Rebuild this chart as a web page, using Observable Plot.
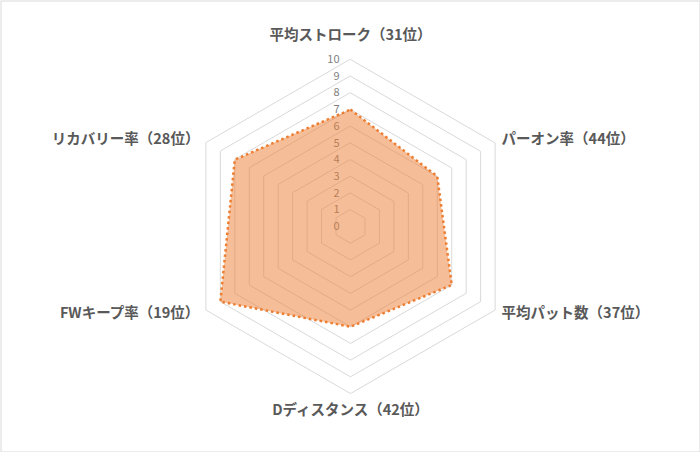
<!DOCTYPE html>
<html><head><meta charset="utf-8">
<script src="https://cdn.jsdelivr.net/npm/d3@7"></script>
<script src="https://cdn.jsdelivr.net/npm/@observablehq/plot@0.6"></script>
<style>
html,body{margin:0;padding:0;background:#fff;}
#chart{width:700px;height:452px;}
</style></head>
<body><div id="chart"></div>
<script>
const categories = ["平均ストローク（31位）","パーオン率（44位）","平均パット数（37位）","Dディスタンス（42位）","FWキープ率（19位）","リカバリー率（28位）"];
const values = [7, 6, 7, 6, 9, 8];
const tickValues = [0,1,2,3,4,5,6,7,8,9,10];
const maxValue = 10;

const n = categories.length;
const ang = i => Math.PI / 2 - (2 * Math.PI * i) / n;
const pt = (r, i) => ({x: r * Math.cos(ang(i)), y: r * Math.sin(ang(i))});

const grid = [];
for (const t of tickValues.filter(t => t > 0)) {
  for (let i = 0; i < n; i++) grid.push({level: t, ...pt(t, i)});
}
const series = values.map((v, i) => ({cat: categories[i], ...pt(v, i)}));
const tickData = tickValues.map(t => ({t, x: 0, y: t}));

const labelData = categories.map((c, i) => {
  const a = ang(i);
  const c0 = Math.cos(a);
  const isVert = Math.abs(c0) < 1e-6;
  const r = isVert ? (Math.sin(a) > 0 ? maxValue * 1.145 : maxValue * 1.1) : maxValue * 1.045;
  return {label: c, x: r * Math.cos(a), y: r * Math.sin(a),
          anchor: isVert ? "middle" : (c0 > 0 ? "start" : "end")};
});

const font = "'Noto Sans CJK JP', 'Noto Sans', sans-serif";
const chart = Plot.plot({
  width: 700, height: 452,
  marginTop: 0, marginBottom: 0, marginLeft: 0, marginRight: 0,
  x: {domain: [-20.96, 20.96], axis: null},
  y: {domain: [-13.53, 13.53], axis: null},
  style: {fontFamily: font, background: "#fff"},
  marks: [
    Plot.frame({stroke: "#d9d9d9", inset: 0.5}),
    Plot.line(grid, {x: "x", y: "y", z: "level", curve: "linear-closed", stroke: "#d9d9d9", strokeWidth: 1}),
    Plot.text(tickData, {x: "x", y: "y", text: d => String(d.t), textAnchor: "end", dx: -11, fill: "#7f7f7f", fontSize: 11}),
    Plot.line(series, {x: "x", y: "y", curve: "linear-closed", fill: "#ED7D31", fillOpacity: 0.5, stroke: "none"}),
    Plot.line(series, {x: "x", y: "y", curve: "linear-closed", stroke: "#ED7D31", strokeWidth: 2.5, strokeDasharray: "2.5 3", strokeLinecap: "butt", strokeLinejoin: "miter"}),
    ...["start", "middle", "end"].map(a =>
      Plot.text(labelData.filter(d => d.anchor === a), {x: "x", y: "y", text: "label", textAnchor: a,
        fill: "#595959", fontSize: 14.5, fontWeight: "bold"}))
  ]
});
document.getElementById("chart").appendChild(chart);
</script></body></html>
